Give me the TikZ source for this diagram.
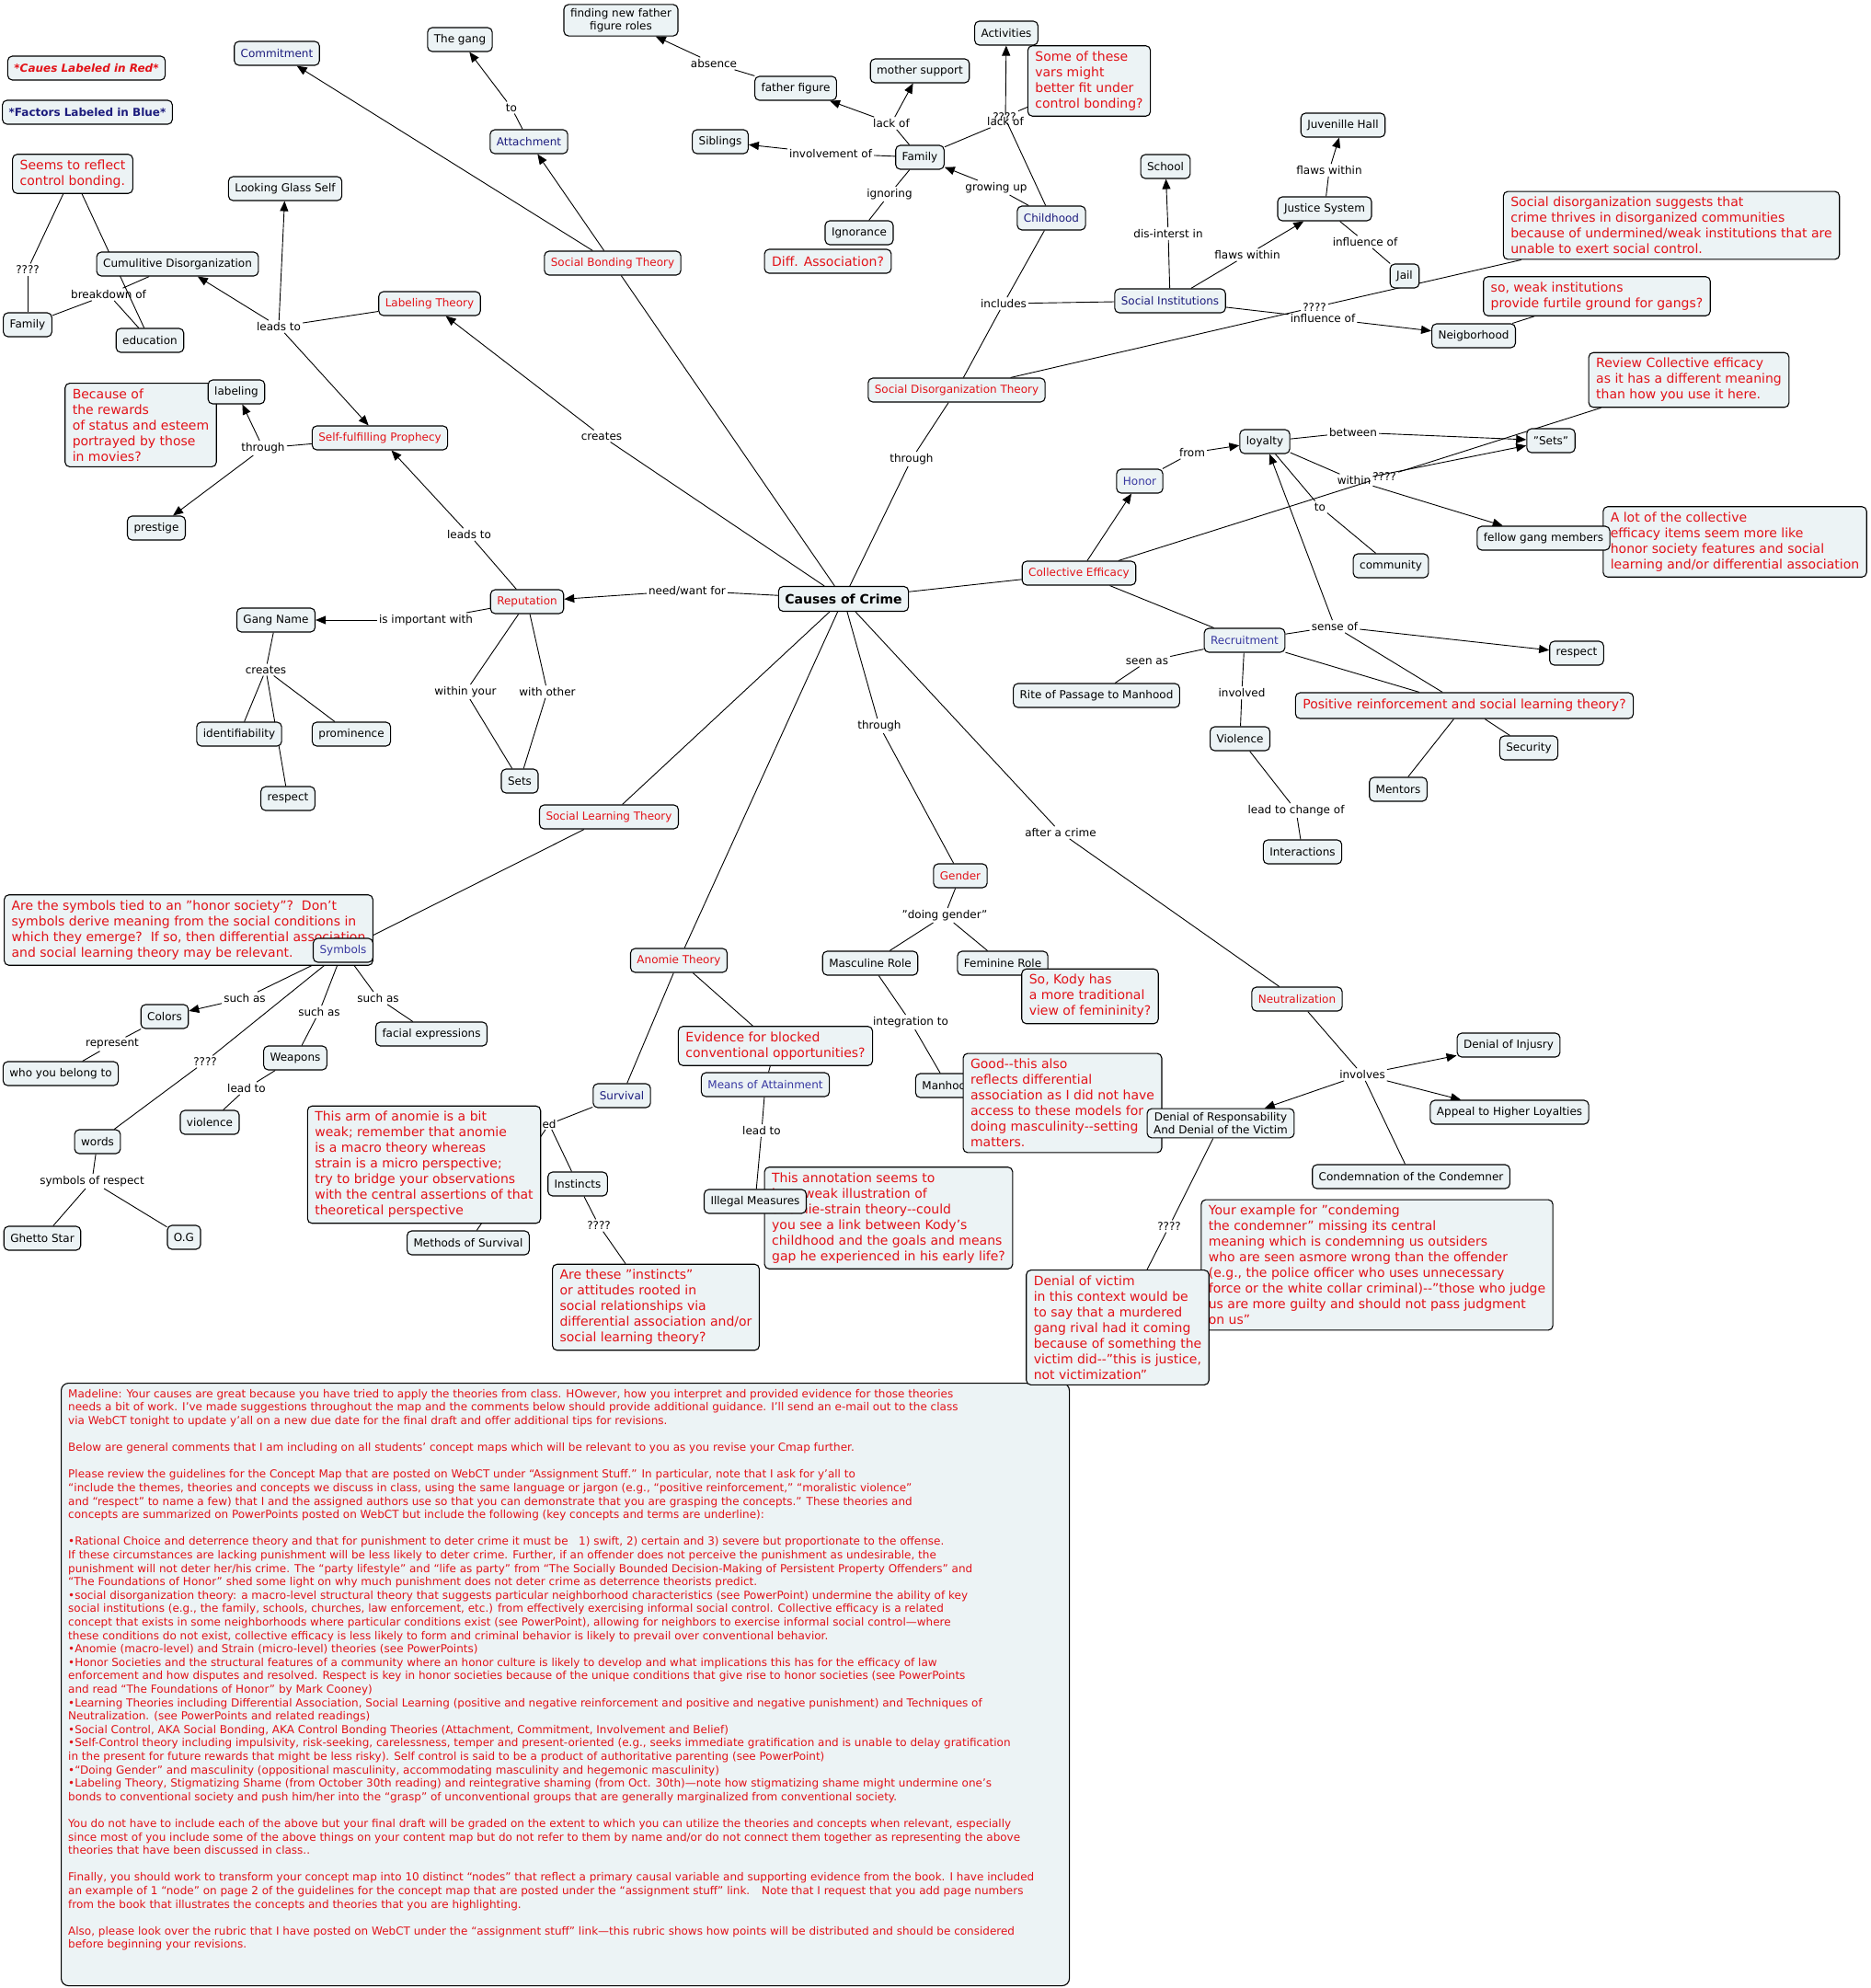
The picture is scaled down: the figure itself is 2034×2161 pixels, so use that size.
\documentclass[tikz,border=0pt]{standalone}
\usepackage{fontspec}
\setmainfont{DejaVu Sans}
\usetikzlibrary{arrows.meta,backgrounds}
\definecolor{boxfill}{RGB}{236,243,245}
\definecolor{cred}{RGB}{226,18,24}
\definecolor{cblue}{RGB}{28,28,125}
\definecolor{lblue}{RGB}{55,55,160}
\begin{document}
\begin{tikzpicture}[x=1pt,y=-1pt,
 nd/.style={draw, line width=1.1pt, rounded corners=5pt, fill=boxfill, inner xsep=7pt, inner ysep=4pt, minimum height=26pt, font=\fontsize{12}{14.5}\selectfont, align=center},
 cz/.style={nd, text=cred},
 fz/.style={nd, text=cblue},
 fl/.style={nd, text=lblue},
 cmtbox/.style={nd, text=cred, font=\fontsize{14}{17}\selectfont, align=left, inner xsep=8pt, inner ysep=6pt},
 lb/.style={inner sep=2pt, font=\fontsize{12}{14}\selectfont},
 ln/.style={line width=0.9pt},
 ar/.style={ln, -{Triangle[length=11pt,width=9pt]}}]
\useasboundingbox (0,0) rectangle (2034,2161);

% ---------- big comment box ----------
\node[draw, line width=1.1pt, rounded corners=8pt, fill=boxfill, minimum width=1096pt, minimum height=655pt, anchor=north west, inner sep=0pt] (bigbox) at (66,1503) {};
\node[anchor=north west, align=left, text=cred, font=\fontsize{12}{14.6}\selectfont, inner sep=0pt] (bigtext) at (74,1510) {%
Madeline: Your causes are great because you have tried to apply the theories from class.  HOwever, how you interpret and provided evidence for those theories\\
needs a bit of work.  I’ve made suggestions throughout the map and the comments below should provide additional guidance.  I’ll send an e-mail out to the class\\
via WebCT tonight to update y’all on a new due date for the final draft and offer additional tips for revisions.\\[14.6pt]
Below are general comments that I am including on all students’ concept maps which will be relevant to you as you revise your Cmap further.\\[14.6pt]
Please review the guidelines for the Concept Map that are posted on WebCT under “Assignment Stuff.”  In particular, note that I ask for y’all to\\
“include the themes, theories and concepts we discuss in class, using the same language or jargon (e.g., “positive reinforcement,” “moralistic violence”\\
and “respect” to name a few) that I and the assigned authors use so that you can demonstrate that you are grasping the concepts.”  These theories and\\
concepts are summarized on PowerPoints posted on WebCT but include the following (key concepts and terms are underline):\\[14.6pt]
•Rational Choice and deterrence theory and that for punishment to deter crime it must be \ \ 1) swift, 2) certain and 3) severe but proportionate to the offense.\\
If these circumstances are lacking punishment will be less likely to deter crime.  Further, if an offender does not perceive the punishment as undesirable, the\\
punishment will not deter her/his crime.  The “party lifestyle” and “life as party” from “The Socially Bounded Decision-Making of Persistent Property Offenders” and\\
“The Foundations of Honor” shed some light on why much punishment does not deter crime as deterrence theorists predict.\\
•social disorganization theory: a macro-level structural theory that suggests particular neighborhood characteristics (see PowerPoint) undermine the ability of key\\
social institutions (e.g., the family, schools, churches, law enforcement, etc.) from effectively exercising informal social control.  Collective efficacy is a related\\
concept that exists in some neighborhoods where particular conditions exist (see PowerPoint), allowing for neighbors to exercise informal social control—where\\
these conditions do not exist, collective efficacy is less likely to form and criminal behavior is likely to prevail over conventional behavior.\\
•Anomie (macro-level) and Strain (micro-level) theories (see PowerPoints)\\
•Honor Societies and the structural features of a community where an honor culture is likely to develop and what implications this has for the efficacy of law\\
enforcement and how disputes and resolved.  Respect is key in honor societies because of the unique conditions that give rise to honor societies (see PowerPoints\\
and read “The Foundations of Honor” by Mark Cooney)\\
•Learning Theories including Differential Association, Social Learning (positive and negative reinforcement and positive and negative punishment) and Techniques of\\
Neutralization. (see PowerPoints and related readings)\\
•Social Control, AKA Social Bonding, AKA Control Bonding Theories (Attachment, Commitment, Involvement and Belief)\\
•Self-Control theory including impulsivity, risk-seeking, carelessness, temper and present-oriented (e.g., seeks immediate gratification and is unable to delay gratification\\
in the present for future rewards that might be less risky).  Self control is said to be a product of authoritative parenting (see PowerPoint)\\
•“Doing Gender” and masculinity (oppositional masculinity, accommodating masculinity and hegemonic masculinity)\\
•Labeling Theory, Stigmatizing Shame (from October 30th reading) and reintegrative shaming (from Oct. 30th)—note how stigmatizing shame might undermine one’s\\
bonds to conventional society and push him/her into the “grasp” of unconventional groups that are generally marginalized from conventional society.\\[14.6pt]
You do not have to include each of the above but your final draft will be graded on the extent to which you can utilize the theories and concepts when relevant, especially\\
since most of you include some of the above things on your content map but do not refer to them by name and/or do not connect them together as representing the above\\
theories that have been discussed in class..\\[14.6pt]
Finally, you should work to transform your concept map into 10 distinct “nodes” that reflect a primary causal variable and supporting evidence from the book.  I have included\\
an example of 1 “node” on page 2 of the guidelines for the concept map that are posted under the “assignment stuff” link. \ \ Note that I request that you add page numbers\\
from the book that illustrates the concepts and theories that you are highlighting.\\[14.6pt]
Also, please look over the rubric that I have posted on WebCT under the “assignment stuff” link—this rubric shows how points will be distributed and should be considered\\
before beginning your revisions.};

% ---------- legends ----------
\node[nd, text=cred, font=\fontsize{12}{14}\selectfont\bfseries\itshape] (legR) at (94,74) {*Caues Labeled in Red*};
\node[nd, text=cblue, font=\fontsize{12}{14}\selectfont\bfseries] (legB) at (95,122) {*Factors Labeled in Blue*};

% ---------- concepts ----------
\node[fz] (commit) at (301,58) {Commitment};
\node[nd] (gang) at (500,43) {The gang};
\node[nd] (froles) at (675,22) {finding new father\\figure roles};
\node[fz] (attach) at (575,154) {Attachment};
\node[cmtbox] (seems) at (79,189) {Seems to reflect\\control bonding.};
\node[nd] (lgs) at (310,205) {Looking Glass Self};
\node[nd] (cumul) at (193,287) {Cumulitive Disorganization};
\node[cz] (sbt) at (666,286) {Social Bonding Theory};
\node[cz] (labth) at (467,330) {Labeling Theory};
\node[nd] (famL) at (30,353) {Family};
\node[nd] (educ) at (163,370) {education};
\node[nd] (father) at (865,96) {father figure};
\node[nd] (mother) at (1000,77) {mother support};
\node[nd] (sibl) at (783,154) {Siblings};
\node[nd] (famT) at (1000,171) {Family};
\node[nd] (ignor) at (934,253) {Ignorance};
\node[cmtbox, minimum height=26pt, inner ysep=3pt] (diffas) at (900,284) {Diff. Association?};
\node[fz] (child) at (1143,237) {Childhood};
\node[nd] (activ) at (1094,36) {Activities};
\node[cmtbox] (somevars) at (1184,88) {Some of these\\vars might\\better fit under\\control bonding?};
\node[nd] (school) at (1267,181) {School};
\node[fz] (socinst) at (1272,327) {Social Institutions};
\node[cz] (sdt) at (1040,424) {Social Disorganization Theory};
\node[nd] (juv) at (1460,136) {Juvenille Hall};
\node[nd] (justice) at (1440,227) {Justice System};
\node[nd] (jail) at (1527,300) {Jail};
\node[cmtbox] (sdcomm) at (1817,245) {Social disorganization suggests that\\crime thrives in disorganized communities\\because of undermined/weak institutions that are\\unable to exert social control.};
\node[cmtbox] (weakinst) at (1736,322) {so, weak institutions\\provide furtile ground for gangs?};
\node[nd] (neigh) at (1602,365) {Neigborhood};
\node[cmtbox] (reviewce) at (1836,413) {Review Collective efficacy\\as it has a different meaning\\than how you use it here.};
\node[nd] (setsQ) at (1686,479) {"Sets"};
\node[nd] (loyalty) at (1375,480) {loyalty};
\node[fl] (honor) at (1239,523) {Honor};
\node[cmtbox] (alot) at (1886,589) {A lot of the collective\\efficacy items seem more like\\honor society features and social\\learning and/or differential association};
\node[nd] (fellow) at (1678,585) {fellow gang members};
\node[nd] (community) at (1512,615) {community};
\node[cz] (colleff) at (1173,623) {Collective Efficacy};
\node[nd, font=\fontsize{14}{16}\selectfont\bfseries, minimum height=27pt] (causes) at (917,651) {Causes of Crime};
\node[fl] (recruit) at (1353,696) {Recruitment};
\node[nd] (respectR) at (1714,710) {respect};
\node[nd] (rite) at (1192,756) {Rite of Passage to Manhood};
\node[cmtbox, minimum height=28pt, inner ysep=3pt] (posreinf) at (1592,767) {Positive reinforcement and social learning theory?};
\node[nd] (violenceR) at (1348,803) {Violence};
\node[nd] (security) at (1662,813) {Security};
\node[nd] (mentors) at (1520,858) {Mentors};
\node[nd] (interact) at (1416,926) {Interactions};
\node[cz] (gender) at (1044,952) {Gender};
\node[nd] (masc) at (946,1047) {Masculine Role};
\node[nd] (fem) at (1090,1047) {Feminine Role};
\node[cmtbox] (kody) at (1185,1083) {So, Kody has\\a more traditional\\view of femininity?};
\node[nd] (manhood) at (1030,1180) {Manhood};
\node[cmtbox] (good) at (1155,1199) {Good-{}-this also\\reflects differential\\association as I did not have\\access to these models for\\doing masculinity-{}-setting\\matters.};
\node[cz] (neutral) at (1410,1086) {Neutralization};
\node[nd] (injury) at (1640,1136) {Denial of Injusry};
\node[nd] (appeal) at (1641,1209) {Appeal to Higher Loyalties};
\node[nd] (denresp) at (1327,1221) {Denial of Responsability\\And Denial of the Victim};
\node[nd] (condemn) at (1534,1279) {Condemnation of the Condemner};
\node[cmtbox] (yourex) at (1497,1375) {Your example for "condeming\\the condemner" missing its central\\meaning which is condemning us outsiders\\who are seen asmore wrong than the offender\\(e.g., the police officer who uses unnecessary\\force or the white collar criminal)-{}-"those who judge\\us are more guilty and should not pass judgment\\on us"};
\node[cmtbox] (denvict) at (1215,1443) {Denial of victim\\in this context would be\\to say that a murdered\\gang rival had it coming\\because of something the\\victim did-{}-"this is justice,\\not victimization"};
\node[cz] (reput) at (573,654) {Reputation};
\node[cz] (sfp) at (413,476) {Self-fulfilling Prophecy};
\node[cmtbox] (because) at (153,462) {Because of\\the rewards\\of status and esteem\\portrayed by those\\in movies?};
\node[nd] (labeling) at (257,426) {labeling};
\node[nd] (prestige) at (170,574) {prestige};
\node[nd] (gangname) at (300,674) {Gang Name};
\node[nd] (identif) at (260,798) {identifiability};
\node[nd] (promin) at (382,798) {prominence};
\node[nd] (respectL) at (313,868) {respect};
\node[nd] (sets) at (565,849) {Sets};
\node[cz] (slt) at (662,888) {Social Learning Theory};
\node[cmtbox] (symcomm) at (205,1011) {Are the symbols tied to an "honor society"?\ \ Don't\\symbols derive meaning from the social conditions in\\which they emerge?\ \ If so, then differential association\\and social learning theory may be relevant.};
\node[fl] (symbols) at (373,1033) {Symbols};
\node[nd] (colors) at (179,1105) {Colors};
\node[nd] (facial) at (469,1124) {facial expressions};
\node[nd] (whoyou) at (66,1167) {who you belong to};
\node[nd] (weapons) at (321,1150) {Weapons};
\node[nd] (violenceL) at (228,1220) {violence};
\node[nd] (words) at (106,1241) {words};
\node[nd] (ghetto) at (46,1346) {Ghetto Star};
\node[nd] (og) at (200,1345) {O.G};
\node[cz] (anomie) at (738,1044) {Anomie Theory};
\node[cmtbox] (evidence) at (843,1137) {Evidence for blocked\\conventional opportunities?};
\node[fl] (means) at (832,1179) {Means of Attainment};
\node[fz] (survival) at (676,1191) {Survival};
\node[cmtbox] (armanomie) at (461,1266) {This arm of anomie is a bit\\weak; remember that anomie\\is a macro theory whereas\\strain is a micro perspective;\\try to bridge your observations\\with the central assertions of that\\theoretical perspective};
\node[nd] (instincts) at (628,1287) {Instincts};
\node[nd] (methods) at (509,1351) {Methods of Survival};
\node[cmtbox] (areinst) at (713,1421) {Are these "instincts"\\or attitudes rooted in\\social relationships via\\differential association and/or\\social learning theory?};
\node[cmtbox] (annot) at (966,1324) {This annotation seems to\\be a weak illustration of\\anomie-strain theory-{}-could\\you see a link between Kody's\\childhood and the goals and means\\gap he experienced in his early life?};
\node[nd] (illegal) at (821,1306) {Illegal Measures};

% ---------- linking phrases ----------
\node[lb] (lTo) at (556,117) {to};
\node[lb] (lQ1) at (30,293) {????};
\node[lb] (lBreak) at (118,320) {breakdown of};
\node[lb] (lLeads1) at (303,355) {leads to};
\node[lb] (lAbsence) at (776,69) {absence};
\node[lb] (lLack1) at (969,134) {lack of};
\node[lb] (lInvolv) at (903,167) {involvement of};
\node[lb] (lIgnoring) at (967,211) {ignoring};
\node[lb] (lGrowing) at (1083,204) {growing up};
\node[lb] (lLack2) at (1093,132) {lack of};
\node[lb] (lQ2) at (1092,127) {????};
\node[lb] (lIncludes) at (1091,330) {includes};
\node[lb] (lDisint) at (1270,254) {dis-interst in};
\node[lb] (lFlaws1) at (1356,277) {flaws within};
\node[lb] (lFlaws2) at (1445,185) {flaws within};
\node[lb] (lInfl1) at (1484,263) {influence of};
\node[lb] (lQ3) at (1429,334) {????};
\node[lb] (lInfl2) at (1438,346) {influence of};
\node[lb] (lThroughSDT) at (991,499) {through};
\node[lb] (lCreates1) at (654,474) {creates};
\node[lb] (lNeed) at (747,642) {need/want for};
\node[lb] (lLeads2) at (510,581) {leads to};
\node[lb] (lThrough1) at (286,487) {through};
\node[lb] (lImportant) at (463,674) {is important with};
\node[lb] (lCreates2) at (289,728) {creates};
\node[lb] (lWithinYour) at (506,752) {within your};
\node[lb] (lWithOther) at (595,752) {with other};
\node[lb] (lFrom) at (1296,492) {from};
\node[lb] (lBetween) at (1471,470) {between};
\node[lb] (lWithin) at (1472,522) {within};
\node[lb] (lQ4) at (1505,518) {????};
\node[lb] (lTo2) at (1435,551) {to};
\node[lb] (lSense) at (1451,681) {sense of};
\node[lb] (lSeen) at (1247,719) {seen as};
\node[lb] (lInvolved) at (1350,753) {involved};
\node[lb] (lLeadChange) at (1409,881) {lead to change of};
\node[lb] (lThroughG) at (956,789) {through};
\node[lb] (lAfter) at (1153,905) {after a crime};
\node[lb] (lDoing) at (1027,995) {"doing gender"};
\node[lb] (lIntegr) at (990,1111) {integration to};
\node[lb] (lInvolves) at (1481,1168) {involves};
\node[lb] (lQ5) at (1271,1333) {????};
\node[lb] (lSuchas1) at (266,1085) {such as};
\node[lb] (lSuchas2) at (347,1100) {such as};
\node[lb] (lSuchas3) at (411,1085) {such as};
\node[lb] (lRepresent) at (122,1135) {represent};
\node[lb] (lQ6) at (223,1154) {????};
\node[lb] (lLeadW) at (268,1183) {lead to};
\node[lb] (lSymResp) at (100,1284) {symbols of respect};
\node[lb, inner sep=1pt] (lEd) at (597,1222) {ed};
\node[lb] (lQ7) at (651,1332) {????};
\node[lb] (lLeadM) at (828,1229) {lead to};

% ---------- connectors ----------
\begin{scope}[on background layer]
\fill[white] (0,0) rectangle (2034,2161);
\draw[ar] (sbt) -- (commit);
\draw[ar] (sbt) -- (attach);
\draw[ln] (attach) -- (lTo); \draw[ar] (lTo) -- (gang);
\draw[ln] (seems) -- (lQ1); \draw[ln] (lQ1) -- (famL);
\draw[ln] (seems) -- (educ);
\draw[ln] (cumul) -- (lBreak); \draw[ln] (lBreak) -- (famL); \draw[ln] (lBreak) -- (educ);
\draw[ln] (labth) -- (lLeads1); \draw[ar] (lLeads1) -- (lgs); \draw[ar] (lLeads1) -- (cumul); \draw[ar] (lLeads1) -- (sfp);
\draw[ln] (causes) -- (lCreates1); \draw[ar] (lCreates1) -- (labth);
\draw[ln] (causes) -- (sbt);
\draw[ln] (father) -- (lAbsence); \draw[ar] (lAbsence) -- (froles);
\draw[ln] (famT) -- (lLack1); \draw[ar] (lLack1) -- (father); \draw[ar] (lLack1) -- (mother);
\draw[ln] (famT) -- (lInvolv); \draw[ar] (lInvolv) -- (sibl);
\draw[ln] (famT) -- (lIgnoring); \draw[ln] (lIgnoring) -- (ignor);
\draw[ln] (child) -- (lGrowing); \draw[ar] (lGrowing) -- (famT);
\draw[ln] (famT) -- (lLack2); \draw[ar] (lLack2) -- (activ);
\draw[ln] (child) -- (lQ2); \draw[ln] (lQ2) -- (somevars);
\draw[ln] (sdt) -- (lIncludes); \draw[ln] (lIncludes) -- (child); \draw[ln] (lIncludes) -- (socinst);
\draw[ln] (socinst) -- (lDisint); \draw[ar] (lDisint) -- (school);
\draw[ln] (socinst) -- (lFlaws1); \draw[ar] (lFlaws1) -- (justice);
\draw[ln] (justice) -- (lFlaws2); \draw[ar] (lFlaws2) -- (juv);
\draw[ln] (justice) -- (lInfl1); \draw[ln] (lInfl1) -- (jail);
\draw[ln] (socinst) -- (lInfl2); \draw[ar] (lInfl2) -- (neigh);
\draw[ln] (sdt) -- (lQ3); \draw[ln] (lQ3) -- (sdcomm);
\draw[ln] (weakinst) -- (neigh);
\draw[ln] (causes) -- (lThroughSDT); \draw[ln] (lThroughSDT) -- (sdt);
\draw[ln] (causes) -- (lNeed); \draw[ar] (lNeed) -- (reput);
\draw[ln] (reput) -- (lLeads2); \draw[ar] (lLeads2) -- (sfp);
\draw[ln] (sfp) -- (lThrough1); \draw[ar] (lThrough1) -- (labeling); \draw[ar] (lThrough1) -- (prestige);
\draw[ln] (reput) -- (lImportant); \draw[ar] (lImportant) -- (gangname);
\draw[ln] (gangname) -- (lCreates2); \draw[ln] (lCreates2) -- (identif); \draw[ln] (lCreates2) -- (promin); \draw[ln] (lCreates2) -- (respectL);
\draw[ln] (reput) -- (lWithinYour); \draw[ln] (lWithinYour) -- (sets);
\draw[ln] (reput) -- (lWithOther); \draw[ln] (lWithOther) -- (sets);
\draw[ln] (causes) -- (colleff);
\draw[ar] (colleff) -- (honor);
\draw[ln] (honor) -- (lFrom); \draw[ar] (lFrom) -- (loyalty);
\draw[ln] (loyalty) -- (lBetween); \draw[ar] (lBetween) -- (setsQ);
\draw[ln] (loyalty) -- (lWithin); \draw[ar] (lWithin) -- (fellow); \draw[ar] (lWithin) -- (setsQ);
\draw[ln] (colleff) -- (lQ4); \draw[ln] (lQ4) -- (reviewce);
\draw[ln] (loyalty) -- (lTo2); \draw[ln] (lTo2) -- (community);
\draw[ln] (colleff) -- (recruit);
\draw[ln] (recruit) -- (lSense); \draw[ar] (lSense) -- (loyalty); \draw[ar] (lSense) -- (respectR); \draw[ln] (lSense) -- (posreinf);
\draw[ln] (recruit) -- (posreinf);
\draw[ln] (recruit) -- (lSeen); \draw[ln] (lSeen) -- (rite);
\draw[ln] (recruit) -- (lInvolved); \draw[ln] (lInvolved) -- (violenceR);
\draw[ln] (violenceR) -- (lLeadChange); \draw[ln] (lLeadChange) -- (interact);
\draw[ln] (posreinf) -- (mentors); \draw[ln] (posreinf) -- (security);
\draw[ln] (causes) -- (lThroughG); \draw[ln] (lThroughG) -- (gender);
\draw[ln] (causes) -- (lAfter); \draw[ln] (lAfter) -- (neutral);
\draw[ln] (gender) -- (lDoing); \draw[ln] (lDoing) -- (masc); \draw[ln] (lDoing) -- (fem);
\draw[ln] (masc) -- (lIntegr); \draw[ln] (lIntegr) -- (manhood);
\draw[ln] (neutral) -- (lInvolves); \draw[ar] (lInvolves) -- (injury); \draw[ar] (lInvolves) -- (appeal); \draw[ar] (lInvolves) -- (denresp); \draw[ln] (lInvolves) -- (condemn);
\draw[ln] (denresp) -- (lQ5); \draw[ln] (lQ5) -- (denvict);
\draw[ln] (causes) -- (slt); \draw[ln] (slt) -- (symbols);
\draw[ln] (symbols) -- (lSuchas1); \draw[ar] (lSuchas1) -- (colors);
\draw[ln] (symbols) -- (lSuchas2); \draw[ln] (lSuchas2) -- (weapons);
\draw[ln] (symbols) -- (lSuchas3); \draw[ln] (lSuchas3) -- (facial);
\draw[ln] (colors) -- (lRepresent); \draw[ln] (lRepresent) -- (whoyou);
\draw[ln] (symbols) -- (lQ6); \draw[ln] (lQ6) -- (words);
\draw[ln] (weapons) -- (lLeadW); \draw[ln] (lLeadW) -- (violenceL);
\draw[ln] (words) -- (lSymResp); \draw[ln] (lSymResp) -- (ghetto); \draw[ln] (lSymResp) -- (og);
\draw[ln] (causes) -- (anomie); \draw[ln] (anomie) -- (survival); \draw[ln] (anomie) -- (evidence); \draw[ln] (evidence) -- (means);
\draw[ln] (survival) -- (lEd); \draw[ln] (lEd) -- (instincts); \draw[ln] (lEd) -- (methods);
\draw[ln] (instincts) -- (lQ7); \draw[ln] (lQ7) -- (areinst);
\draw[ln] (means) -- (lLeadM); \draw[ln] (lLeadM) -- (illegal);
\end{scope}
\end{tikzpicture}
\end{document}
